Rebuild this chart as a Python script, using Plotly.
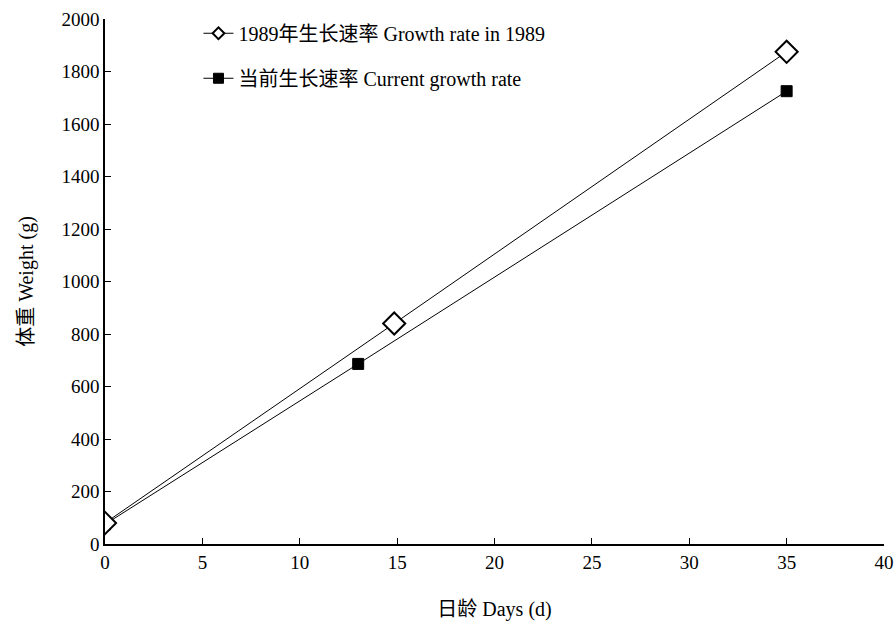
import plotly.graph_objects as go

days_1989 = [0, 14.85, 35]
weight_1989 = [80, 840, 1875]
days_current = [0, 13, 35]
weight_current = [75, 686, 1725]

name_1989 = "1989年生长速率 Growth rate in 1989"
name_current = "当前生长速率 Current growth rate"

FONT = "Liberation Serif, Times New Roman, Noto Sans CJK SC, serif"

fig = go.Figure()
# data traces
fig.add_trace(go.Scatter(
    x=days_current, y=weight_current, mode="lines+markers", showlegend=False,
    line=dict(color="black", width=1),
    marker=dict(symbol="square", size=11, color="black", line=dict(color="black", width=1)),
))
fig.add_trace(go.Scatter(
    x=days_1989, y=weight_1989, mode="lines+markers", showlegend=False,
    line=dict(color="black", width=1),
    marker=dict(symbol="diamond", size=17, color="white", line=dict(color="black", width=2)),
))
# legend entries (smaller markers, as in the reference legend)
fig.add_trace(go.Scatter(
    x=[None], y=[None], mode="lines+markers", name=name_1989,
    line=dict(color="black", width=1),
    marker=dict(symbol="diamond", size=9, color="white", line=dict(color="black", width=2)),
    legendgroup="a",
))
fig.add_trace(go.Scatter(
    x=[None], y=[None], mode="lines+markers", name=name_current,
    line=dict(color="black", width=1),
    marker=dict(symbol="square", size=10, color="black", line=dict(color="black", width=1)),
    legendgroup="b",
))

fig.update_layout(
    width=896, height=626,
    margin=dict(l=105, r=12, t=19, b=82, autoexpand=False),
    plot_bgcolor="white", paper_bgcolor="white",
    font=dict(family=FONT, size=19, color="black"),
    showlegend=True,
    legend=dict(x=0.12, y=1.01, xanchor="left", yanchor="top",
                bgcolor="rgba(0,0,0,0)", font=dict(size=20, family=FONT),
                tracegroupgap=16, traceorder="grouped", itemsizing="trace"),
    xaxis=dict(range=[0, 40], dtick=5, showline=True, linecolor="black", linewidth=1.5,
               ticks="inside", ticklen=6, tickcolor="black", showgrid=False, zeroline=False,
               automargin=False,
               title=dict(text="日龄 Days (d)", standoff=30, font=dict(size=20)),
               tickfont=dict(size=19)),
    yaxis=dict(range=[0, 2000], dtick=200, showline=True, linecolor="black", linewidth=1.5,
               ticks="inside", ticklen=6, tickcolor="black", showgrid=False, zeroline=False,
               automargin=False,
               title=dict(text="体重 Weight (g)", standoff=22, font=dict(size=20)),
               tickfont=dict(size=19)),
)

fig.write_html("out.html", config={"displayModeBar": False},
               post_script="document.body.style.margin='0';")
